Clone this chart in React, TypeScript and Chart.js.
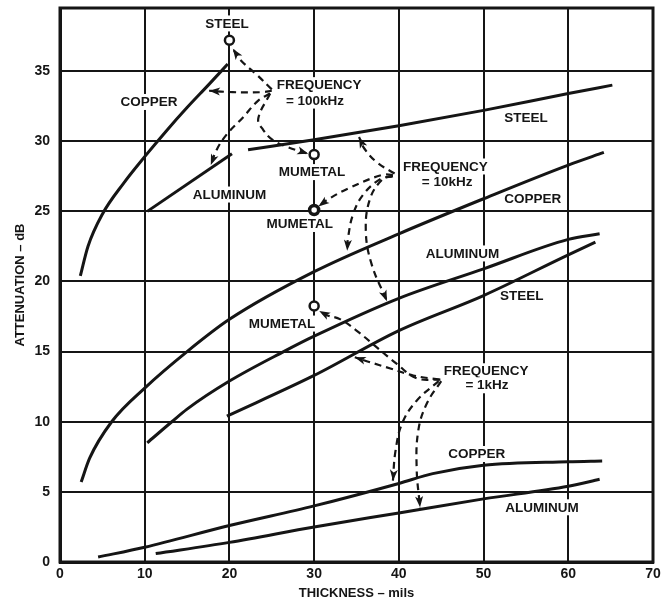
import React, { useEffect, useRef } from 'react';
import { Chart, registerables } from 'chart.js';
Chart.register(...registerables);

const FONT = '"Liberation Sans", Arial, Helvetica, sans-serif';
const INK = '#151515';

const xTicks = [0, 10, 20, 30, 40, 50, 60, 70];
const yTicks = [0, 5, 10, 15, 20, 25, 30, 35];
const xTitle = 'THICKNESS – mils';
const yTitle = 'ATTENUATION – dB';

// solid curves: [thickness (mils), attenuation (dB)]
const copper100k = [[2.4, 20.4], [3.3, 22.5], [5, 24.8], [7.5, 27.0], [10, 28.9], [12.5, 30.7], [15, 32.4], [17.5, 34.0], [19.8, 35.5]];
const aluminum100k = [[10.3, 25.0], [20.3, 29.1]];
const steel10k = [[22.2, 29.4], [30, 30.1], [40, 31.1], [50, 32.2], [60, 33.4], [65.2, 34.0]];
const copper10k = [[2.5, 5.7], [3.5, 7.4], [6.1, 10.0], [10, 12.4], [15, 15.0], [20, 17.3], [30, 20.7], [40, 23.4], [50, 25.9], [60, 28.3], [64.2, 29.2]];
const aluminum10k = [[10.3, 8.5], [13.2, 10.0], [15, 10.9], [20, 12.9], [26.4, 15.0], [30, 16.1], [40, 18.8], [50, 20.9], [60, 23.0], [63.7, 23.4]];
const steel1k = [[19.7, 10.4], [30, 13.3], [40, 16.5], [50, 19.0], [60, 21.9], [63.2, 22.8]];
const copper1k = [[4.5, 0.35], [10, 1.05], [20, 2.6], [30, 4.0], [40, 5.6], [44, 6.3], [50, 6.9], [60, 7.15], [64, 7.2]];
const aluminum1k = [[11.3, 0.6], [20, 1.4], [30, 2.5], [40, 3.5], [50, 4.5], [60, 5.4], [63.7, 5.9]];

// single-value points (open circles)
const steel100kPoint = [[20, 37.2]];
const mumetal100kPoint = [[30, 29.05]];
const mumetal10kPoint = [[30, 25.1]];
const mumetal1kPoint = [[30, 18.25]];

// dashed arrows from the frequency notes to the curves
const arrow100kSteel = [[25.0, 33.7], [23.3, 34.7], [21.3, 35.8], [20.4, 36.6]];
const arrow100kCopper = [[25.0, 33.6], [23.9, 33.5], [20.4, 33.5], [17.6, 33.6]];
const arrow100kAluminum = [[24.8, 33.4], [23.4, 32.9], [21.6, 31.7], [19.7, 30.5], [18.5, 29.4], [17.8, 28.3]];
const arrow100kMumetal = [[24.8, 33.4], [23.4, 31.6], [24.0, 30.8], [25.1, 30.1], [26.8, 29.6], [29.3, 29.1]];
const arrow10kSteel = [[39.5, 27.7], [37.4, 28.5], [35.9, 29.5], [35.3, 30.3]];
const arrow10kMumetal = [[39.3, 27.6], [38.0, 27.6], [33.9, 26.6], [31.5, 25.8], [30.5, 25.35]];
const arrow10kCopper = [[39.2, 27.5], [37.8, 27.3], [35.8, 26.2], [34.6, 24.8], [34.0, 23.1], [33.9, 22.2]];
const arrow10kAluminum = [[39.3, 27.5], [38.1, 27.3], [36.6, 25.9], [36.1, 23.6], [36.8, 21.2], [38.6, 18.6]];
const arrow1kMumetal = [[44.9, 13.0], [42.1, 13.1], [39.8, 14.1], [37.4, 15.3], [35.0, 16.5], [33.1, 17.3], [31.5, 17.6], [30.6, 17.9]];
const arrow1kSteel = [[44.8, 13.0], [41.7, 13.3], [39.0, 13.8], [36.3, 14.3], [34.8, 14.6]];
const arrow1kCopper = [[44.7, 12.9], [42.1, 11.5], [40.4, 9.9], [39.6, 7.9], [39.3, 5.8]];
const arrow1kAluminum = [[45.0, 12.9], [43.3, 11.3], [42.3, 9.4], [42.1, 6.7], [42.5, 3.9]];

// text notes placed in data coordinates
const noteText = ['STEEL', 'COPPER', 'FREQUENCY', '= 100kHz', 'MUMETAL', 'ALUMINUM', 'MUMETAL', 'STEEL', 'FREQUENCY', '= 10kHz', 'COPPER', 'ALUMINUM', 'STEEL', 'MUMETAL', 'FREQUENCY', '= 1kHz', 'COPPER', 'ALUMINUM'];
const noteX = [19.7, 10.5, 30.6, 30.1, 29.75, 20.0, 28.3, 55.0, 45.5, 45.7, 55.8, 47.5, 54.5, 26.2, 50.3, 50.4, 49.2, 56.9];
const noteY = [38.4, 32.8, 34.0, 32.9, 27.8, 26.2, 24.1, 31.7, 28.2, 27.1, 25.9, 22.0, 19.0, 17.0, 13.6, 12.6, 7.7, 3.9];

const toXY = (arr: number[][]) => arr.map(([x, y]) => ({ x, y }));

const solid = (arr: number[][]) => ({
  data: toXY(arr),
  borderColor: INK,
  borderWidth: 3,
  pointRadius: 0,
  fill: false,
  cubicInterpolationMode: 'monotone',
});
const dashed = (arr: number[][]) => ({
  data: toXY(arr),
  borderColor: INK,
  borderWidth: 2.2,
  borderDash: [7, 5],
  pointRadius: 0,
  fill: false,
  tension: 0.4,
  arrow: true,
});
const marker = (arr: number[][], bw: number) => ({
  data: toXY(arr),
  showLine: false,
  pointRadius: 4.5,
  pointBorderWidth: bw,
  pointBackgroundColor: '#fff',
  pointBorderColor: INK,
});

const notesPlugin = {
  id: 'notes',
  beforeDatasetsDraw(chart: any) {
    const { ctx, chartArea, scales } = chart;
    ctx.save();
    ctx.strokeStyle = INK;
    ctx.lineWidth = 3;
    ctx.strokeRect(chartArea.left, chartArea.top, chartArea.right - chartArea.left, chartArea.bottom - chartArea.top);
    ctx.font = `bold 13.5px ${FONT}`;
    ctx.textAlign = 'center';
    ctx.textBaseline = 'middle';
    noteText.forEach((t, i) => {
      const px = scales.x.getPixelForValue(noteX[i]);
      const py = scales.y.getPixelForValue(noteY[i]);
      const w = ctx.measureText(t).width;
      ctx.fillStyle = '#fff';
      ctx.fillRect(px - w / 2 - 3, py - 8, w + 6, 16);
      ctx.fillStyle = INK;
      ctx.fillText(t, px, py + 0.5);
    });
    ctx.restore();
  },
  afterDatasetsDraw(chart: any) {
    const { ctx } = chart;
    ctx.save();
    ctx.fillStyle = INK;
    chart.data.datasets.forEach((ds: any, i: number) => {
      if (!ds.arrow) return;
      const pts = chart.getDatasetMeta(i).data;
      const n = pts.length;
      const p = pts[n - 1];
      const q = pts[n - 2];
      let dx = p.x - q.x;
      let dy = p.y - q.y;
      const len = Math.hypot(dx, dy) || 1;
      dx /= len;
      dy /= len;
      const L = 11;
      const W = 4;
      ctx.beginPath();
      ctx.moveTo(p.x, p.y);
      ctx.lineTo(p.x - dx * L - dy * W, p.y - dy * L + dx * W);
      ctx.lineTo(p.x - dx * L * 0.75, p.y - dy * L * 0.75);
      ctx.lineTo(p.x - dx * L + dy * W, p.y - dy * L - dx * W);
      ctx.closePath();
      ctx.fill();
    });
    ctx.restore();
  },
};

export default function App() {
  const ref = useRef<HTMLCanvasElement>(null);
  useEffect(() => {
    if (!ref.current) return;
    const chart = new Chart(ref.current, {
      type: 'line',
      data: {
        datasets: [
          solid(copper100k),
          solid(aluminum100k),
          solid(steel10k),
          solid(copper10k),
          solid(aluminum10k),
          solid(steel1k),
          solid(copper1k),
          solid(aluminum1k),
          dashed(arrow100kSteel),
          dashed(arrow100kCopper),
          dashed(arrow100kAluminum),
          dashed(arrow100kMumetal),
          dashed(arrow10kSteel),
          dashed(arrow10kMumetal),
          dashed(arrow10kCopper),
          dashed(arrow10kAluminum),
          dashed(arrow1kMumetal),
          dashed(arrow1kSteel),
          dashed(arrow1kCopper),
          dashed(arrow1kAluminum),
          marker(steel100kPoint, 2.5),
          marker(mumetal100kPoint, 2.5),
          marker(mumetal10kPoint, 3.5),
          marker(mumetal1kPoint, 2.5),
        ] as any,
      },
      options: {
        animation: false,
        responsive: true,
        maintainAspectRatio: false,
        devicePixelRatio: 1,
        layout: { padding: { top: 6, right: 16, left: 0, bottom: 0 } },
        plugins: { legend: { display: false }, tooltip: { enabled: false } },
        scales: {
          x: {
            type: 'linear',
            min: 0,
            max: 70,
            afterBuildTicks: (s: any) => { s.ticks = xTicks.map((v) => ({ value: v })); },
            afterFit: (s: any) => { s.height = 42; s.paddingLeft = 0; s.paddingRight = 0; },
            ticks: { color: INK, font: { family: FONT, size: 14, weight: 'bold' }, padding: 4, maxRotation: 0, autoSkip: false },
            grid: { color: INK, lineWidth: 2, drawTicks: false },
            border: { display: true, color: INK, width: 3 },
            title: { display: true, text: xTitle, color: INK, font: { family: FONT, size: 13, weight: 'bold' }, padding: { top: 0, bottom: 3 } },
          },
          y: {
            type: 'linear',
            min: 0,
            max: 39.5,
            afterBuildTicks: (s: any) => { s.ticks = yTicks.map((v) => ({ value: v })); },
            afterFit: (s: any) => { s.width = 60; s.paddingTop = 0; s.paddingBottom = 0; },
            ticks: { color: INK, font: { family: FONT, size: 14, weight: 'bold' }, padding: 10, autoSkip: false },
            grid: { color: INK, lineWidth: 2, drawTicks: false },
            border: { display: true, color: INK, width: 3 },
            title: { display: true, text: yTitle, color: INK, font: { family: FONT, size: 13, weight: 'bold' }, padding: { top: 13, bottom: 0 } },
          },
        },
      } as any,
      plugins: [notesPlugin],
    });
    return () => chart.destroy();
  }, []);
  return (
    <div style={{ position: 'fixed', left: 0, top: 0, width: 669, height: 604, background: '#fff' }}>
      <canvas ref={ref} />
    </div>
  );
}
